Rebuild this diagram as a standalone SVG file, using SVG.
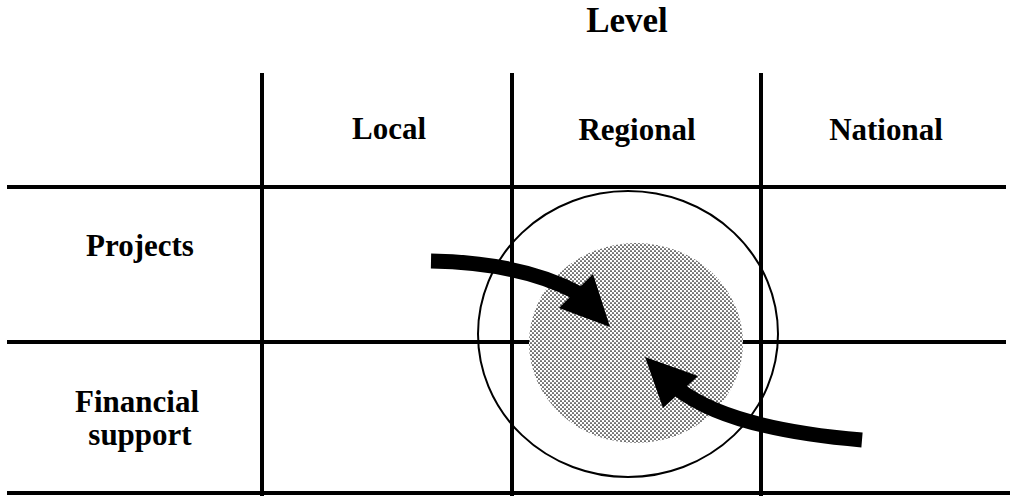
<svg xmlns="http://www.w3.org/2000/svg" width="1013" height="496" viewBox="0 0 1013 496">
<style>
.t{font-family:"Liberation Serif","Times New Roman",serif;font-weight:bold;fill:#000;text-anchor:middle}
.l{font-size:31px}
.grid{stroke:#000;stroke-width:4;fill:none}
.arr{stroke:#000;stroke-width:15;fill:none}
</style>
<defs>
<pattern id="dots" width="4" height="4" patternUnits="userSpaceOnUse">
<rect width="4" height="4" fill="#fff"/>
<circle cx="1" cy="1" r="0.85" fill="#000"/>
<circle cx="3" cy="3" r="0.85" fill="#000"/>
</pattern>
</defs>
<g id="grid">
<line class="grid" x1="262" y1="73" x2="262" y2="496"/>
<line class="grid" x1="512" y1="73" x2="512" y2="496"/>
<line class="grid" x1="761" y1="73" x2="761" y2="496"/>
<line class="grid" x1="7" y1="187" x2="1006" y2="187"/>
<line class="grid" x1="7" y1="342" x2="1006" y2="342"/>
<line class="grid" x1="7" y1="493" x2="1010" y2="493"/>
</g>
<g id="outer-circle"><ellipse cx="628" cy="334" rx="150" ry="143" fill="none" stroke="#000" stroke-width="2"/></g>
<g id="inner-circle"><ellipse cx="636" cy="343" rx="107" ry="100" fill="url(#dots)"/></g>
<g id="labels">
<text id="level" class="t" x="627" y="32" font-size="35">Level</text>
<text id="local" class="t l" x="389" y="139">Local</text>
<text id="regional" class="t l" x="637" y="140">Regional</text>
<text id="national" class="t l" x="886" y="140">National</text>
<text id="projects" class="t l" x="140" y="256">Projects</text>
<text id="financial" class="t l" x="137" y="412">Financial<tspan x="140" y="445">support</tspan></text>
</g>
<g id="connectors">
<path class="arr" d="M431,261 C485,262 535,270 578,293"/>
<polygon points="593,274 559,308 610,327" fill="#000"/>
<path class="arr" d="M862,440 C790,434 718,420 678,389"/>
<polygon points="698,376 663,408 645,357" fill="#000"/>
</g>
</svg>
